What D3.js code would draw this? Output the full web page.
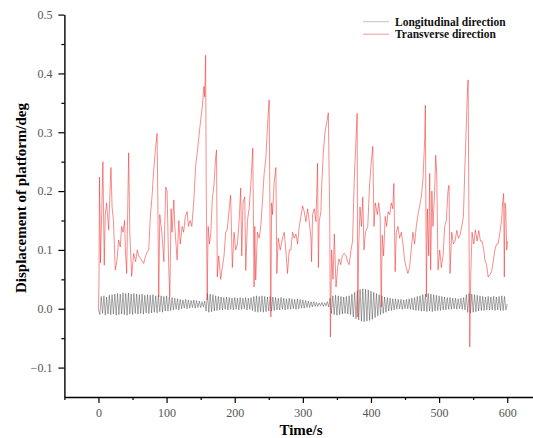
<!DOCTYPE html>
<html>
<head>
<meta charset="utf-8">
<script src="https://cdn.jsdelivr.net/npm/d3@7/dist/d3.min.js"></script>
<style>
  html, body { margin: 0; padding: 0; background: #fff; }
  svg { display: block; }
</style>
</head>
<body>
<svg id="chart" width="533" height="438"></svg>
<script>
// ---------------- DATA ----------------
const seriesNames = ["Longitudinal direction", "Transverse direction"];

// Transverse direction (red): time (s) and displacement (deg)
const transverseTime = [
  0,0.8,1.5,3,6.5,8.5,10,12,15,17,18.3,20,22,24.7,27,29.6,32,34,36,38.4,39.5,41.4,44.3,46,48.7,51.7,54.6,57,59,62,
  66.4,68,70.8,73.8,76.3,78.6,81,83.6,86,87,88.5,90,93,96,97.5,98.8,100.7,103,104.7,106.6,108,110.6,112,115.5,118,120,122.8,125,127.5,130.2,
  132,134.5,137,140,142.6,146,149,152.3,154.8,156,157.3,158.2,159.6,161,163,165,167,169.5,172,173.3,174.4,176.5,179.4,181.8,184.3,186.7,189,191.5,194,196.5,
  199,201.5,204,206.5,208.8,210.3,212.2,214.7,216.2,218.7,221.1,223.6,226.5,228.4,229.5,230.8,233.3,235.8,238.3,240.8,243.2,245.7,248.1,250.5,251.5,253,254.2,255.5,257.9,260.4,
  261.8,263.8,266.8,270.1,272.6,275,277.5,280,282.4,284.9,287.3,289.8,292.3,294.7,297.2,299.6,302,304.5,307,309.4,311.9,312.8,314.3,316.8,319.2,321.6,322.8,324,326.5,327.5,
  330,332.5,335,337.4,339.5,340.4,342.3,344.3,346.2,348.7,351.1,353,355.5,358,360.9,363.3,365.8,368,370.7,373,375.6,378,379.7,380.6,382,383.9,386,388,389.7,391.9,
  395.3,397.8,400.2,402.7,404.4,406.4,409.3,411.3,413.5,415,416.5,418.5,420.9,423,425.1,427.5,429.8,432,433.6,435.5,437.2,439.6,442,444.6,447,449.3,451.7,454.2,456.6,459,
  461.6,464,466.5,469,471.4,473.8,476.3,478.8,479.8,481.3,482.8,484.7,486.2,487.6,489.4,491,493.5,495,496.5,498.4,500.9,503.3,505.8,508.2,510.6,513,514.5,516,518.5,521,
  523.4,525.9,528.4,530.8,533.3,535.7,537.7,540.2,541.6,542.6,543.8,545,546.5,548.4,550.9,553.3,555.8,558.2,560.7,563.1,565.6,567.2,569.6,572,574.5,577,579.4,581.9,584.3,586.8,
  589.3,591.7,593.2,594.7,595.7,596.7,597.9,599.2,600.5
];
const transverseValues = [
  0.0,0.05,0.224,0.078,0.25,0.074,0.16,0.18,0.134,0.2,0.24,0.173,0.15,0.066,0.08,0.117,0.105,0.14,0.13,0.15,0.1,0.06,0.265,0.13,0.055,0.094,0.08,0.1,0.09,0.085,
  0.077,0.085,0.095,0.1,0.16,0.19,0.235,0.27,0.298,0.2,0.02,0.16,0.13,0.08,0.15,0.207,0.2,0.077,0.02,0.17,0.13,0.185,0.14,0.083,0.15,0.11,0.14,0.13,0.157,0.165,
  0.14,0.15,0.14,0.185,0.242,0.276,0.31,0.343,0.378,0.36,0.431,0.2,0.015,0.14,0.11,0.13,0.185,0.21,0.258,0.27,0.054,0.09,0.05,0.07,0.09,0.13,0.135,0.165,0.193,0.07,
  0.13,0.1,0.11,0.15,0.205,0.09,0.18,0.19,0.065,0.15,0.17,0.21,0.273,0.037,0.14,0.049,0.13,0.12,0.14,0.185,0.23,0.255,0.31,0.355,0.2,-0.014,0.18,0.16,0.215,0.24,
  0.06,0.12,0.1,0.12,0.13,0.1,0.06,0.1,0.1,0.13,0.12,0.127,0.11,0.14,0.157,0.175,0.165,0.148,0.17,0.148,0.12,0.08,0.16,0.17,0.148,0.247,0.07,0.148,0.165,0.205,
  0.265,0.3,0.316,0.333,0.15,-0.048,0.1,0.05,0.127,0.037,0.07,0.085,0.075,0.09,0.094,0.09,0.08,0.075,0.1,0.115,0.224,0.287,0.332,-0.014,0.105,0.173,0.14,0.19,0.1,0.13,
  0.14,0.207,0.247,0.276,0.14,0.18,0.16,0.18,0.155,0.003,0.125,0.09,0.157,0.14,0.165,0.16,0.18,0.17,0.213,0.063,0.13,0.14,0.12,0.13,0.11,0.083,0.07,0.06,0.07,0.1,
  0.13,0.11,0.14,0.16,0.174,0.19,0.22,0.287,0.346,0.02,0.17,0.09,0.23,0.066,0.2,0.14,0.2,0.261,0.23,0.066,0.1,0.07,0.09,0.14,0.15,0.2,0.21,0.06,0.13,0.11,
  0.115,0.133,0.12,0.125,0.14,0.157,0.236,0.32,0.372,0.389,0.15,-0.065,0.06,0.13,0.11,0.134,0.115,0.133,0.115,0.115,0.1,0.083,0.075,0.054,0.058,0.063,0.08,0.1,0.11,0.111,
  0.13,0.15,0.18,0.196,0.054,0.18,0.17,0.1,0.115
];

// Longitudinal direction (black): one value every 2 s from 0 to 600 s
const longitudinalStep = 2;
const longitudinalValues = [
  0.000,-0.010,0.021,-0.008,0.022,-0.011,0.020,-0.009,0.023,-0.010,
  0.024,-0.009,0.025,-0.011,0.026,-0.010,0.025,-0.009,0.027,-0.010,
  0.026,-0.011,0.027,-0.009,0.025,-0.010,0.026,-0.008,0.025,-0.009,
  0.024,-0.008,0.025,-0.009,0.023,-0.007,0.024,-0.008,0.023,-0.007,
  0.024,-0.006,0.022,-0.007,0.023,-0.005,0.022,-0.006,0.021,-0.004,
  0.022,-0.004,0.020,-0.003,0.019,-0.002,0.018,-0.001,0.017,-0.002,
  0.016,0.000,0.015,0.001,0.016,0.000,0.015,0.001,0.014,0.002,
  0.015,0.001,0.014,0.002,0.013,0.002,0.012,0.003,0.013,-0.004,
  0.026,-0.006,0.025,-0.005,0.024,-0.004,0.022,-0.003,0.021,-0.002,
  0.020,-0.002,0.019,-0.001,0.020,-0.002,0.019,-0.001,0.018,-0.002,
  0.019,-0.001,0.018,-0.002,0.019,-0.001,0.018,0.000,0.019,-0.002,
  0.018,-0.001,0.019,-0.003,0.021,-0.005,0.022,-0.006,0.021,-0.005,
  0.022,-0.006,0.021,-0.005,0.020,-0.004,0.021,-0.004,0.020,-0.003,
  0.019,-0.002,0.018,-0.002,0.019,-0.001,0.018,-0.002,0.017,-0.001,
  0.018,-0.001,0.017,0.000,0.016,-0.001,0.017,0.000,0.016,0.001,
  0.015,0.001,0.014,0.002,0.013,0.002,0.012,0.003,0.012,0.004,
  0.011,0.004,0.010,0.005,0.011,0.004,0.010,0.005,0.012,0.003,
  0.018,-0.008,0.022,-0.010,0.023,-0.011,0.022,-0.010,0.021,-0.009,
  0.020,-0.008,0.021,-0.009,0.022,-0.010,0.025,-0.014,0.028,-0.017,
  0.031,-0.019,0.033,-0.021,0.034,-0.022,0.033,-0.021,0.032,-0.020,
  0.030,-0.018,0.028,-0.015,0.026,-0.012,0.024,-0.010,0.022,-0.008,
  0.020,-0.006,0.019,-0.004,0.018,-0.003,0.017,-0.002,0.017,-0.001,
  0.016,0.000,0.016,-0.001,0.015,0.000,0.016,0.000,0.017,-0.001,
  0.018,-0.002,0.019,-0.003,0.021,-0.003,0.022,-0.004,0.024,-0.004,
  0.025,-0.005,0.026,-0.004,0.025,-0.005,0.024,-0.004,0.023,-0.003,
  0.022,-0.003,0.021,-0.002,0.020,-0.002,0.019,-0.001,0.019,-0.001,
  0.018,0.000,0.018,-0.001,0.017,0.000,0.018,-0.001,0.019,-0.002,
  0.024,-0.006,0.026,-0.007,0.025,-0.006,0.024,-0.005,0.023,-0.004,
  0.022,-0.003,0.021,-0.003,0.020,-0.002,0.021,-0.002,0.020,-0.002,
  0.021,-0.003,0.020,-0.002,0.021,-0.003,0.022,-0.003,0.021,-0.002,0.008
];

// Axis ticks
const xMajorTicks = [0, 100, 200, 300, 400, 500, 600];
const xMinorTicks = [-50, 50, 150, 250, 350, 450, 550, 650];
const yMajorTicks = [-0.1, 0.0, 0.1, 0.2, 0.3, 0.4, 0.5];
const yMinorTicks = [-0.05, 0.05, 0.15, 0.25, 0.35, 0.45];
const xTitle = "Time/s";
const yTitle = "Displacement of platform/deg";

// ---------------- CHART ----------------
const svg = d3.select("#chart");
const x = d3.scaleLinear().domain([-50, 650]).range([64.4, 541.3]);
const y = d3.scaleLinear().domain([-0.15, 0.5]).range([397, 14.6]);

const transverse = transverseTime.map((t, i) => ({ t, v: transverseValues[i] }));
const longitudinal = longitudinalValues.map((v, i) => ({ t: i * longitudinalStep, v }));

const line = d3.line().x(d => x(d.t)).y(d => y(d.v));

const seriesColors = ["#333333", "#f02a2a"];

// series
svg.append("path").datum(longitudinal)
  .attr("d", line).attr("fill", "none")
  .attr("stroke", seriesColors[0]).attr("stroke-width", 0.5).attr("stroke-opacity", 0.85);

svg.append("path").datum(transverse)
  .attr("d", line).attr("fill", "none")
  .attr("stroke", seriesColors[1]).attr("stroke-width", 0.6).attr("stroke-opacity", 0.9);

// axes
const fmt = v => (v < 0 ? "\u2212" : "") + Math.abs(v).toFixed(1);
const labelFont = "'Liberation Serif', 'Times New Roman', serif";

svg.append("g").attr("transform", "translate(64.4,0)")
  .call(d3.axisLeft(y).tickValues(yMajorTicks).tickSize(6).tickSizeOuter(0).tickPadding(6).tickFormat(fmt));
const yMinor = svg.append("g").attr("transform", "translate(64.4,0)")
  .call(d3.axisLeft(y).tickValues(yMinorTicks).tickSize(3).tickFormat(""));
yMinor.select(".domain").remove();

svg.append("g").attr("transform", "translate(0,397)")
  .call(d3.axisBottom(x).tickValues(xMajorTicks).tickSize(6).tickSizeOuter(0).tickPadding(5).tickFormat(d3.format("d")));
const xMinor = svg.append("g").attr("transform", "translate(0,397)")
  .call(d3.axisBottom(x).tickValues(xMinorTicks).tickSize(3).tickFormat(""));
xMinor.select(".domain").remove();

svg.selectAll(".domain").attr("stroke", "#000").attr("stroke-width", 1.4);
svg.selectAll(".tick line").attr("stroke", "#000").attr("stroke-width", 1.2);
svg.selectAll(".tick text")
  .attr("font-family", labelFont).attr("font-size", 12).attr("fill", "#555");

// titles
svg.append("text")
  .attr("x", 301).attr("y", 435)
  .attr("text-anchor", "middle")
  .attr("font-family", labelFont).attr("font-weight", "bold").attr("font-size", 15)
  .attr("fill", "#000").text(xTitle);

svg.append("text")
  .attr("transform", "translate(26,198) rotate(-90)")
  .attr("text-anchor", "middle")
  .attr("font-family", labelFont).attr("font-weight", "bold").attr("font-size", 15)
  .attr("fill", "#000").text(yTitle);

// legend
const legend = svg.append("g");
seriesNames.forEach((name, i) => {
  const ly = 21.7 + i * 12.5;
  legend.append("line")
    .attr("x1", 363).attr("x2", 389).attr("y1", ly).attr("y2", ly)
    .attr("stroke", seriesColors[i]).attr("stroke-width", 0.6).attr("opacity", i === 0 ? 0.5 : 0.8);
  legend.append("text")
    .attr("x", 395).attr("y", ly + 4)
    .attr("font-family", labelFont).attr("font-weight", "bold").attr("font-size", 11.5)
    .attr("fill", "#111").text(name);
});
</script>
</body>
</html>
